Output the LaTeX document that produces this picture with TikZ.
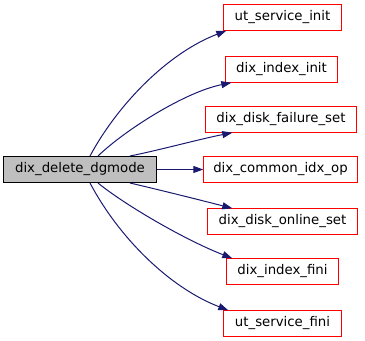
\documentclass[tikz,border=0pt]{standalone}
\usepackage{fontspec}
\setmainfont{DejaVu Sans}
\usetikzlibrary{arrows.meta,calc}

\definecolor{edgeblue}{HTML}{191970}
\definecolor{callred}{RGB}{255,0,0}
\definecolor{rootgray}{HTML}{BFBFBF}

\tikzset{
  fn/.style={minimum height=26bp, inner sep=0pt,
             font=\fontsize{13.3bp}{16bp}\selectfont},
  rootfn/.style={fn, draw=black, line width=1bp, fill=rootgray},
  frame/.style={draw=callred, line width=1bp},
  call/.style={draw=edgeblue, line width=1bp,
               -{Triangle[length=10bp,width=7bp,fill=edgeblue]}}
}

\begin{document}
\begin{tikzpicture}[x=1bp,y=-1bp]
  \useasboundingbox (0,0) rectangle (365,341);

  % caller
  \node[rootfn, minimum width=153bp] (main) at (80,169.5) {dix\_delete\_dgmode};

  % callees
  \node[fn, minimum width=118bp] (usi) at (282.5,17.5)  {ut\_service\_init};
  \node[fn, minimum width=112bp] (dii) at (281.5,69.5)  {dix\_index\_init};
  \node[fn, minimum width=151bp] (dfs) at (281,119.5)   {dix\_disk\_failure\_set};
  \node[fn, minimum width=154bp] (cio) at (280.5,169.5) {dix\_common\_idx\_op};
  \node[fn, minimum width=150bp] (dos) at (282.5,221.5) {dix\_disk\_online\_set};
  \node[fn, minimum width=112bp] (dif) at (282.5,271.5) {dix\_index\_fini};
  \node[fn, minimum width=118bp] (usf) at (282.5,323.5) {ut\_service\_fini};

  % red frames of the callees
  \foreach \n in {usi,dii,dfs,cio,dos,dif,usf}
    \draw[frame] (\n.south west) rectangle (\n.north east);

  % call edges
  \draw[call] ($(main.north)+(10,0)$) .. controls (118,104) and (168,53) .. ($(usi.south west)+(3,0)$);
  \draw[call] ($(main.north)+(18,0)$) .. controls (125,130) and (185,92) .. ($(dii.south west)+(6,0)$);
  \draw[call] ($(main.north)+(50,0)$) .. controls (160,150) and (200,139) .. ($(dfs.south west)+(27,0)$);
  \draw[call] (main.east) -- (cio.west);
  \draw[call] ($(main.south)+(50,0)$) .. controls (160,190) and (200,200) .. ($(dos.north west)+(25,0)$);
  \draw[call] ($(main.south)+(18,0)$) .. controls (125,205) and (185,240) .. ($(dif.north west)+(6,0)$);
  \draw[call] ($(main.south)+(10,0)$) .. controls (118,236) and (168,287) .. ($(usf.north west)+(5,0)$);
\end{tikzpicture}
\end{document}
